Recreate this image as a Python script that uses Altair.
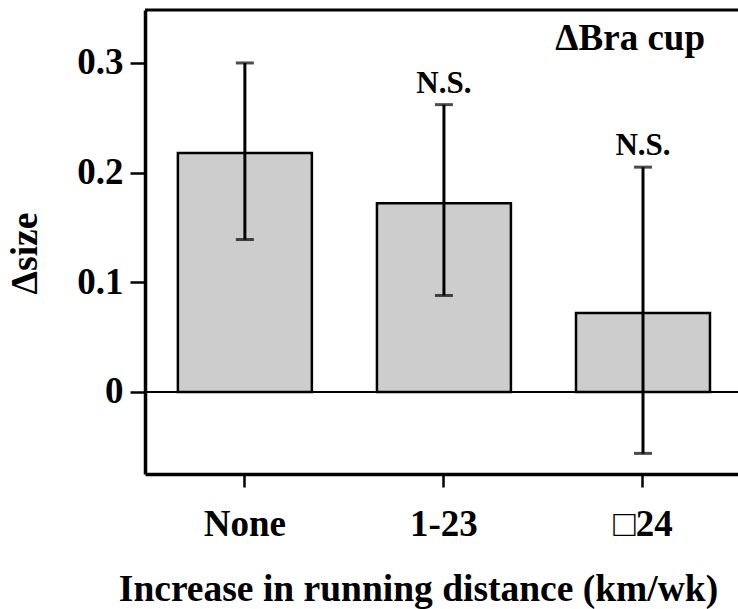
import altair as alt
import pandas as pd

categories = ["None", "1-23", "\u25a124"]
means = [0.218, 0.172, 0.072]
lower = [0.139, 0.088, -0.056]
upper = [0.300, 0.262, 0.205]
notes = ["", "N.S.", "N.S."]
y_ticks = [0, 0.1, 0.2, 0.3]

df = pd.DataFrame({"cat": categories, "mean": means, "lo": lower, "hi": upper, "note": notes})

W, H = 593, 464
FONT = "Liberation Serif"

yscale = alt.Scale(domain=[-0.0748, 0.3483], nice=False, zero=False)
xscale = alt.Scale(domain=categories, paddingInner=0.327, paddingOuter=0.153, align=0.54)

x_enc = alt.X(
    "cat:N", scale=xscale, sort=categories,
    axis=alt.Axis(
        title="Increase in running distance (km/wk)", labelAngle=0,
        domainWidth=3.5, domainColor="black", tickSize=13, tickWidth=2.5, tickColor="black",
        tickBand="center",
        labelFont=FONT, labelFontSize=37, labelFontWeight="bold", labelColor="black", labelPadding=19,
        titleFont=FONT, titleFontSize=37.5, titleFontWeight="bold", titleColor="black", titlePadding=28,
        titleX=273, titleAlign="center",
    ),
)
y_enc = alt.Y(
    "mean:Q", scale=yscale,
    axis=alt.Axis(
        title="\u0394size", values=y_ticks, labelExpr="datum.value == 0 ? '0' : format(datum.value, '.1f')",
        grid=False, domainWidth=3.5, domainColor="black", tickSize=15, tickWidth=2.5, tickColor="black",
        labelFont=FONT, labelFontSize=37, labelFontWeight="bold", labelColor="black", labelPadding=7,
        titleFont=FONT, titleFontSize=37.5, titleFontWeight="bold", titleColor="black",
        titleAngle=270, titleX=-120, titleY=243, titleAlign="center", titleBaseline="middle",
    ),
)

base = alt.Chart(df)

bars = base.mark_bar(fill="#cdcdcd", stroke="black", strokeWidth=2.5).encode(
    x=x_enc, y=y_enc, y2=alt.datum(0)
)

zero_line = base.mark_rule(color="black", strokeWidth=2).encode(
    y=alt.Y(datum=0, scale=yscale),
    x=alt.value(0), x2=alt.value(W),
)

err = base.mark_rule(color="black", strokeWidth=3).encode(
    x=alt.X("cat:N", scale=xscale, sort=categories), y=alt.Y("lo:Q", scale=yscale), y2="hi:Q"
)
cap_lo = base.mark_tick(color="black", thickness=3, size=18).encode(
    x=alt.X("cat:N", scale=xscale, sort=categories), y=alt.Y("lo:Q", scale=yscale)
)
cap_hi = base.mark_tick(color="black", thickness=3, size=18).encode(
    x=alt.X("cat:N", scale=xscale, sort=categories), y=alt.Y("hi:Q", scale=yscale)
)
ns = base.mark_text(font=FONT, fontSize=31, fontWeight="bold", color="black",
                    baseline="alphabetic", dy=-12).encode(
    x=alt.X("cat:N", scale=xscale, sort=categories), y=alt.Y("hi:Q", scale=yscale), text="note:N"
)
label = alt.Chart(pd.DataFrame({"t": ["\u0394Bra cup"]})).mark_text(
    font=FONT, fontSize=37, fontWeight="bold", color="black", align="right", baseline="alphabetic"
).encode(x=alt.value(560), y=alt.value(40), text="t:N")

top_line = alt.Chart(pd.DataFrame({"a": [0]})).mark_rule(color="black", strokeWidth=3).encode(
    x=alt.value(0), x2=alt.value(W), y=alt.value(0)
)

chart = alt.layer(bars, zero_line, err, cap_lo, cap_hi, ns, label, top_line).properties(
    width=W, height=H,
    autosize=alt.AutoSizeParams(type="none"),
    padding={"left": 145, "top": 10, "right": 0, "bottom": 135},
).configure_view(stroke=None).configure(background="white")

chart.save("out.html", embed_options={"renderer": "svg", "actions": False})
